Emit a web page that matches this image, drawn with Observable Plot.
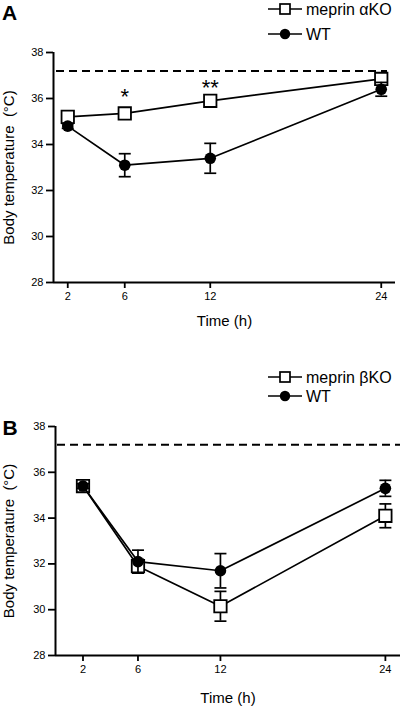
<!DOCTYPE html>
<html><head><meta charset="utf-8">
<script src="https://cdn.jsdelivr.net/npm/d3@7"></script>
<script src="https://cdn.jsdelivr.net/npm/@observablehq/plot@0.6"></script>
<style>
html,body{margin:0;padding:0;background:#fff;}
#root{position:relative;width:400px;height:706px;overflow:hidden;background:#fff;font-family:"Liberation Sans",Arial,Helvetica,sans-serif;}
#root > *{position:absolute;left:0;}
</style></head><body><div id="root"></div>
<script>
// ---- data ----
const times = [2, 6, 12, 24];
const yTicks = [28, 30, 32, 34, 36, 38];
const normalTemp = 37.2;
const xLabel = "Time (h)";
const yLabel = "Body temperature  (°C)";

// Panel A
const namesA = ["meprin αKO", "WT"];
const koA = [35.2, 35.35, 35.9, 36.85];
const koAErr = [0.1, 0.22, 0.08, 0.2];
const wtA = [34.8, 33.1, 33.4, 36.4];
const wtAErr = [0.1, 0.5, 0.65, 0.3];
const sigTimesA = [6, 12];
const sigLabelsA = ["*", "**"];
const xDomainA = [1, 25];

// Panel B
const namesB = ["meprin βKO", "WT"];
const koB = [35.4, 31.9, 30.15, 34.1];
const koBErr = [0.1, 0.3, 0.65, 0.52];
const wtB = [35.4, 32.1, 31.7, 35.3];
const wtBErr = [0.1, 0.5, 0.75, 0.35];
const xDomainB = [0, 25.1];

const yDomain = [28, 38];
const FONT = "Liberation Sans, Arial, Helvetica, sans-serif";

// horizontal cap symbol for error bars
const cap = {draw(ctx, size) { const w = Math.sqrt(size / Math.PI); ctx.moveTo(-w, 0); ctx.lineTo(w, 0); }};

function seriesMarks(vals, errs, kind) {
  const rows = times.map((t, i) => ({t, v: vals[i], e: errs[i]}));
  const lw = 1.7;
  const marks = [
    Plot.line(rows, {x: "t", y: "v", stroke: "black", strokeWidth: lw}),
    Plot.ruleX(rows, {x: "t", y1: d => d.v - d.e, y2: d => d.v + d.e, stroke: "black", strokeWidth: lw}),
    Plot.dot(rows, {x: "t", y: d => d.v + d.e, symbol: cap, r: 6, stroke: "black", strokeWidth: lw, fill: "none"}),
    Plot.dot(rows, {x: "t", y: d => d.v - d.e, symbol: cap, r: 6, stroke: "black", strokeWidth: lw, fill: "none"})
  ];
  if (kind === "square") marks.push(Plot.dot(rows, {x: "t", y: "v", symbol: "square", r: 7, fill: "white", stroke: "black", strokeWidth: 1.8}));
  else marks.push(Plot.dot(rows, {x: "t", y: "v", r: 5.8, fill: "black", stroke: "none"}));
  return {rows, marks};
}

function panel({ko, koErr, wt, wtErr, xDomain, height, marginLeft, marginRight, marginTop, marginBottom, dashInsetL, dashInsetR, ylabDx, xlabDy, extra}) {
  const k = seriesMarks(ko, koErr, "square");
  const w = seriesMarks(wt, wtErr, "circle");
  const marks = [
    Plot.ruleY([normalTemp], {stroke: "black", strokeWidth: 2, strokeDasharray: "8,5", insetLeft: dashInsetL, insetRight: dashInsetR}),
    Plot.axisX({ticks: times, tickSize: 6, tickPadding: 4, fontSize: 11, label: null, strokeWidth: 1.8, tickFormat: d => d}),
    Plot.axisY({ticks: yTicks, tickSize: 7, tickPadding: 3, fontSize: 11, label: null, strokeWidth: 1.8, tickFormat: d => d}),
    Plot.ruleX([xDomain[0]], {stroke: "black", strokeWidth: 2}),
    Plot.ruleY([yDomain[0]], {stroke: "black", strokeWidth: 2}),
    ...k.marks,
    ...w.marks,
    Plot.text([yLabel], {text: d => d, frameAnchor: "left", rotate: -90, dx: ylabDx, fontSize: 15, textAnchor: "middle", lineAnchor: "middle"}),
    Plot.text([xLabel], {text: d => d, frameAnchor: "bottom", dy: xlabDy, fontSize: 15, textAnchor: "middle", lineAnchor: "middle"}),
    ...(extra ? extra(k.rows) : [])
  ];
  return Plot.plot({
    width: 400, height, marginLeft, marginRight, marginTop, marginBottom,
    x: {domain: xDomain},
    y: {domain: yDomain},
    style: {fontFamily: FONT, fontSize: "11px", color: "black", background: "transparent", overflow: "visible"},
    marks
  });
}

function legend(names, height, rowYs, panelLabel, labelY) {
  const svg = d3.create("svg").attr("width", 400).attr("height", height)
    .style("font-family", FONT).style("overflow", "visible");
  names.forEach((name, i) => {
    const y = rowYs[i];
    svg.append("line").attr("x1", 268).attr("x2", 302).attr("y1", y).attr("y2", y).attr("stroke", "black").attr("stroke-width", 1.7);
    if (i === 0) svg.append("rect").attr("x", 280).attr("y", y - 5).attr("width", 10).attr("height", 10).attr("fill", "white").attr("stroke", "black").attr("stroke-width", 1.7);
    else svg.append("circle").attr("cx", 285).attr("cy", y).attr("r", 5.2).attr("fill", "black");
    svg.append("text").attr("x", 306).attr("y", y).attr("dy", "0.35em").attr("font-size", 16).text(name);
  });
  if (panelLabel) svg.append("text").attr("x", 2).attr("y", labelY).attr("font-size", 21).attr("font-weight", "bold").text(panelLabel);
  return svg.node();
}

const root = document.getElementById("root");

// Panel A
const legA = legend(namesA, 44, [9, 34], "A", 20);
legA.style.top = "0px";
root.appendChild(legA);

const plotA = panel({
  ko: koA, koErr: koAErr, wt: wtA, wtErr: wtAErr, xDomain: xDomainA,
  height: 290, marginLeft: 53, marginRight: 5, marginTop: 8, marginBottom: 52,
  dashInsetL: 3, dashInsetR: 8, ylabDx: -44.5, xlabDy: 39,
  extra: rows => {
    const sig = sigTimesA.map((t, i) => { const r = rows.find(d => d.t === t); return {t, top: r.v + r.e, label: sigLabelsA[i]}; });
    return [Plot.text(sig, {x: "t", y: "top", text: "label", dy: -11, fontSize: 22})];
  }
});
plotA.style.top = "44px";
root.appendChild(plotA);

// Panel B
const legB = legend(namesB, 48, [17, 36], null, 0);
legB.style.top = "360px";
root.appendChild(legB);

const plotB = panel({
  ko: koB, koErr: koBErr, wt: wtB, wtErr: wtBErr, xDomain: xDomainB,
  height: 296, marginLeft: 55, marginRight: 0, marginTop: 16, marginBottom: 51,
  dashInsetL: 2, dashInsetR: 0, ylabDx: -46.5, xlabDy: 42.5,
  extra: () => [Plot.text(["B"], {text: d => d, frameAnchor: "top-left", dx: -53, dy: 2, fontSize: 21, fontWeight: "bold", textAnchor: "start", lineAnchor: "middle"})]
});
plotB.style.top = "410px";
root.appendChild(plotB);
</script></body></html>
